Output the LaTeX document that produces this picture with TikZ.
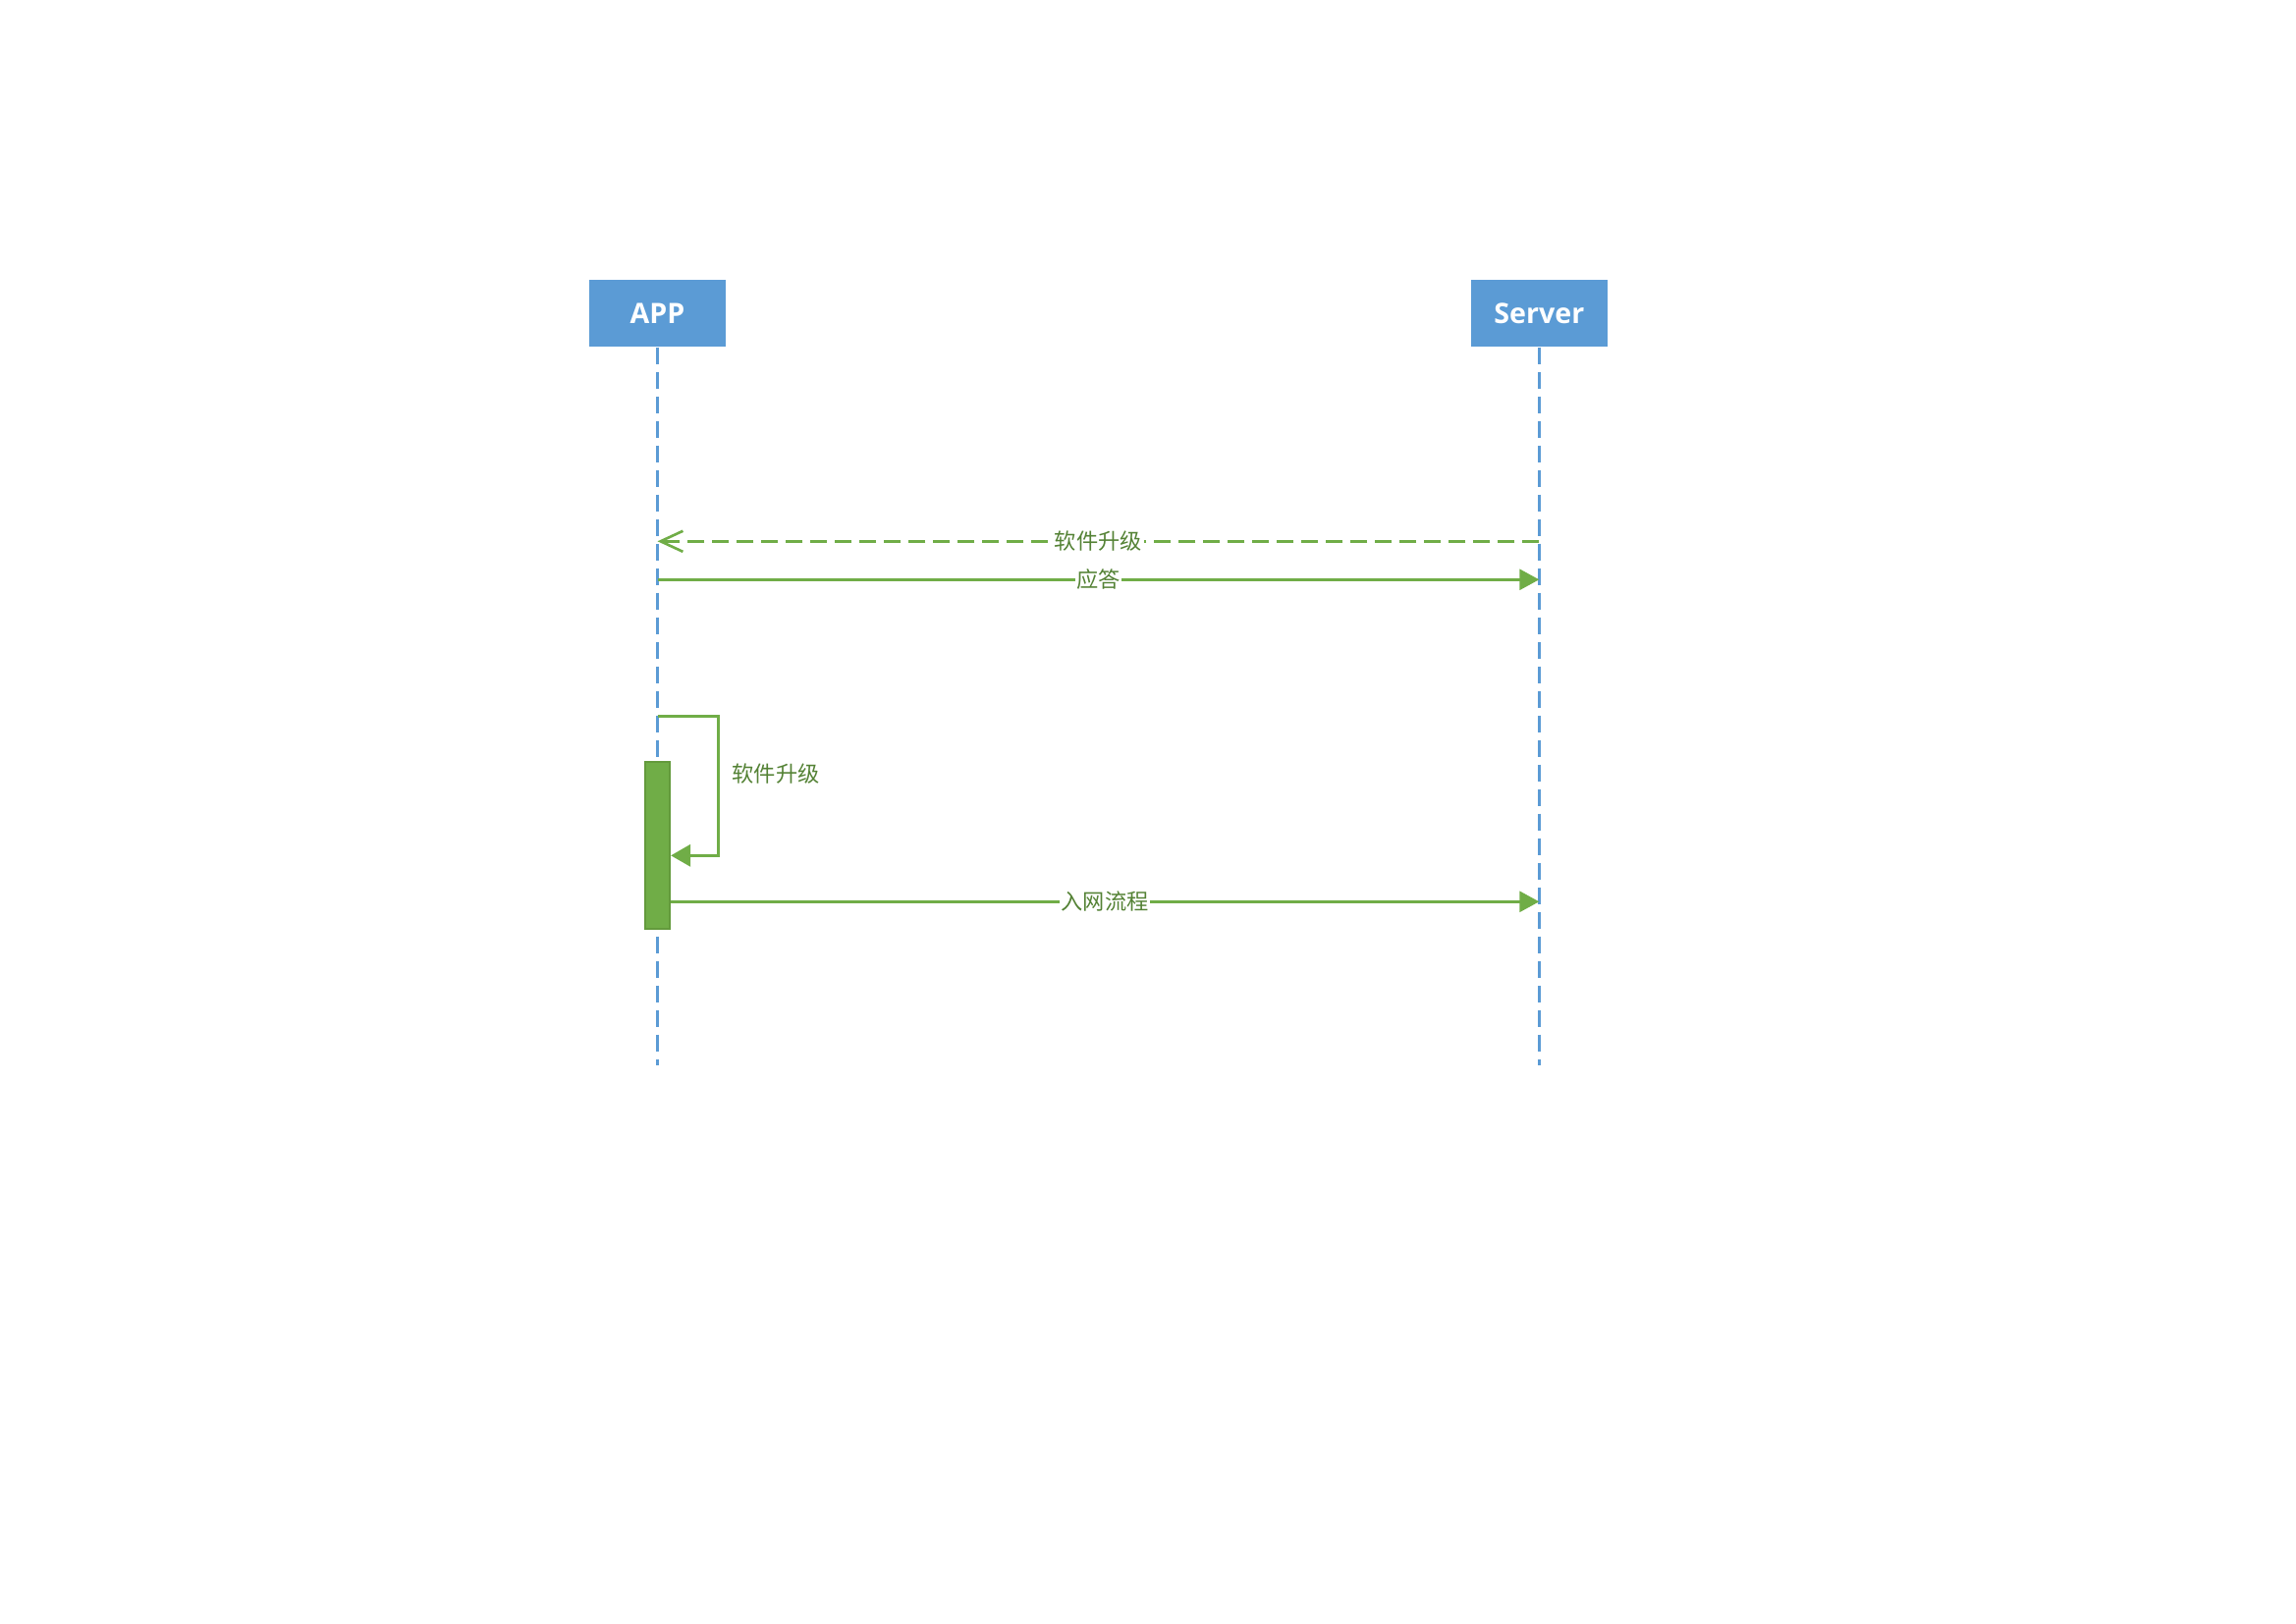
\documentclass[tikz,border=0pt]{standalone}
\usepackage{fontspec}
\setmainfont{Open Sans}
\newfontfamily\cjk{Noto Sans CJK SC}
\usetikzlibrary{arrows.meta}
\definecolor{actorblue}{HTML}{5B9BD5}
\definecolor{msggreen}{HTML}{70AD47}
\definecolor{txtgreen}{HTML}{548235}
\definecolor{bardark}{HTML}{639A3C}
\tikzset{
  actor/.style={fill=actorblue, text=white, font=\bfseries\fontsize{10.3}{12}\selectfont,
    minimum width=50pt, minimum height=24.5pt, inner sep=0pt},
  lifeline/.style={actorblue, line width=0.95pt, dash pattern=on 6.1pt off 2.9pt},
  msg/.style={msggreen, line width=0.95pt},
  msglabel/.style={fill=white, text=txtgreen, font=\cjk\fontsize{8}{9}\selectfont, inner sep=0.6pt},
  sidelabel/.style={text=txtgreen, font=\cjk\fontsize{8}{9}\selectfont, inner sep=0pt, anchor=west},
  filledhead/.style={-{Triangle[length=7.2pt,width=7.6pt]}},
  openhead/.style={-{Straight Barb[length=8.2pt,width=7.6pt,line width=0.95pt]}},
}
\begin{document}
\begin{tikzpicture}[x=0.36pt,y=-0.36pt]
\useasboundingbox (0,0) rectangle (2338,1653);
% actors
\node[actor] (app) at (669.5,319) {APP};
\node[actor] (server) at (1567.3,319) {Server};
\coordinate (append) at (669.5,1085);
\coordinate (serverend) at (1567.3,1085);
\draw[lifeline] (app.south) -- (append);
\draw[lifeline] (server.south) -- (serverend);
% message points
\coordinate (s1) at (1567.3,551.3);
\coordinate (a1) at (669.5,551.3);
\coordinate (a2) at (669.5,590.3);
\coordinate (s2) at (1567.3,590.3);
% activation bar
\node[draw=bardark, fill=msggreen, line width=0.6pt, minimum width=9.2pt, minimum height=61.3pt, inner sep=0pt] (bar) at (669.5,861) {};
% dashed reply
\draw[msg, openhead, dash pattern=on 6.1pt off 2.9pt] (s1) -- node[msglabel] {软件升级} (a1);
% solid
\draw[msg, filledhead] (a2) -- node[msglabel] {应答} (s2);
% self loop
\coordinate (l0) at (669.5,729.3);
\coordinate (l1) at (731.7,729.3);
\coordinate (l2) at (731.7,871.3);
\coordinate (l3) at (bar.east |- l2);
\draw[msg, -{Triangle[length=7.2pt,width=8pt]}] (l0) -- (l1) -- (l2) -- (l3);
\node[sidelabel] (selflabel) at (745,788.3) {软件升级};
% join
\coordinate (b0) at (bar.east |- 0,918.3);
\coordinate (s3) at (1567.3,918.3);
\draw[msg, filledhead] (b0) -- node[msglabel] {入网流程} (s3);
\end{tikzpicture}
\end{document}
